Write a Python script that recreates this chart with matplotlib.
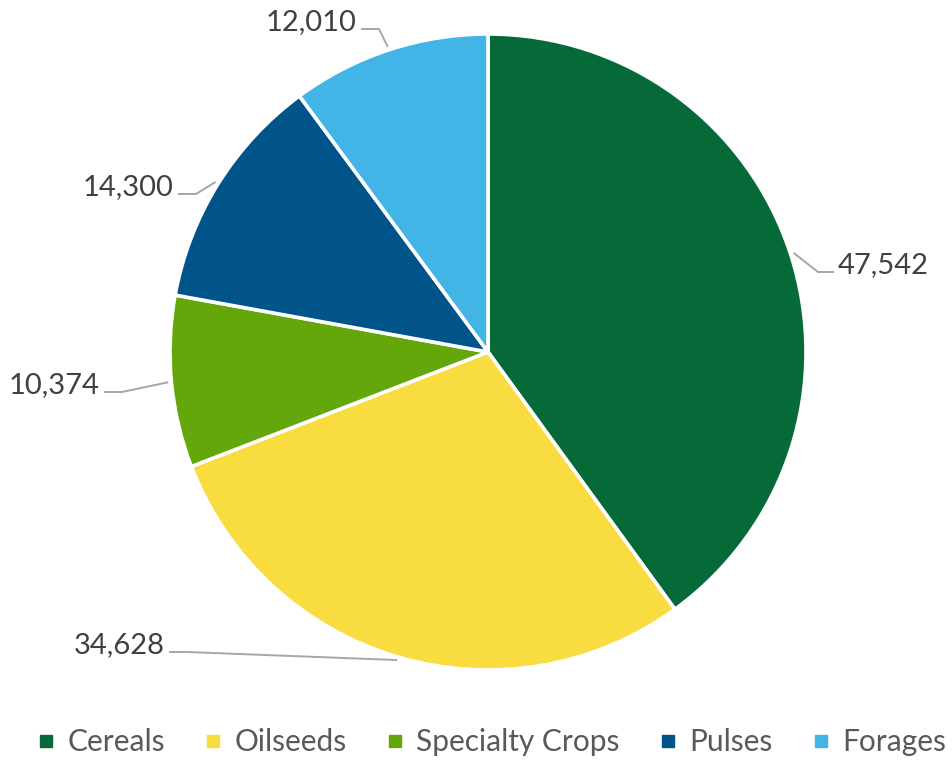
import numpy as np
import matplotlib.pyplot as plt
from matplotlib.lines import Line2D

plt.rcParams['font.family'] = ['Lato', 'DejaVu Sans']

categories = ["Cereals", "Oilseeds", "Specialty Crops", "Pulses", "Forages"]
values = [47542, 34628, 10374, 14300, 12010]
colors = ["#066A38", "#F9DC40", "#64A70B", "#00548A", "#42B4E6"]

# label anchor in pixels (x, y, side) -- layout only
label_pos = [(838, 265, "left"), (165, 645, "right"), (100, 385, "right"),
             (174, 187, "right"), (357, 22, "right")]

W, H = 952, 762
cx, cy, R = 488, 352, 318

fig = plt.figure(figsize=(W / 100, H / 100), dpi=100)
ax = fig.add_axes([0, 0, 1, 1])

ax.pie(values, colors=colors, startangle=90, counterclock=False, radius=1,
       wedgeprops=dict(edgecolor="white", linewidth=2.6))
ax.set_xlim(-cx / R, (W - cx) / R)
ax.set_ylim(-(H - cy) / R, cy / R)
ax.set_aspect("auto")
ax.axis("off")

def px(x, y):
    return (x - cx) / R, (cy - y) / R

total = sum(values)
start = 0.0
for val, (lx, ly, side) in zip(values, label_pos):
    frac = val / total
    mid = np.deg2rad((start + frac / 2) * 360)
    start += frac
    ex, ey = np.sin(mid) * 1.01, np.cos(mid) * 1.01
    tx, ty = px(lx, ly)
    ly_line = ty - 7 / R
    if side == "left":
        p1 = tx - 4 / R
        elbow = p1 - 16 / R
    else:
        p1 = tx + 4 / R
        elbow = p1 + 18 / R
    ax.plot([ex, elbow, p1], [ey, ly_line, ly_line], color="#A6A6A6", lw=1.4,
            solid_capstyle="butt", zorder=1)
    ax.text(tx, ty, f"{val:,}", ha=side, va="center", fontsize=21, color="#404040")

handles = [Line2D([], [], marker="s", linestyle="", markersize=8.5, color=c) for c in colors]
leg = fig.legend(handles, categories, loc="center", bbox_to_anchor=(492 / W, 1 - 742 / H),
                 ncol=5, frameon=False, fontsize=21.5, handlelength=0.55,
                 handletextpad=0.45, columnspacing=1.33, labelcolor="#595959")

fig.savefig("out.png", dpi=100)
